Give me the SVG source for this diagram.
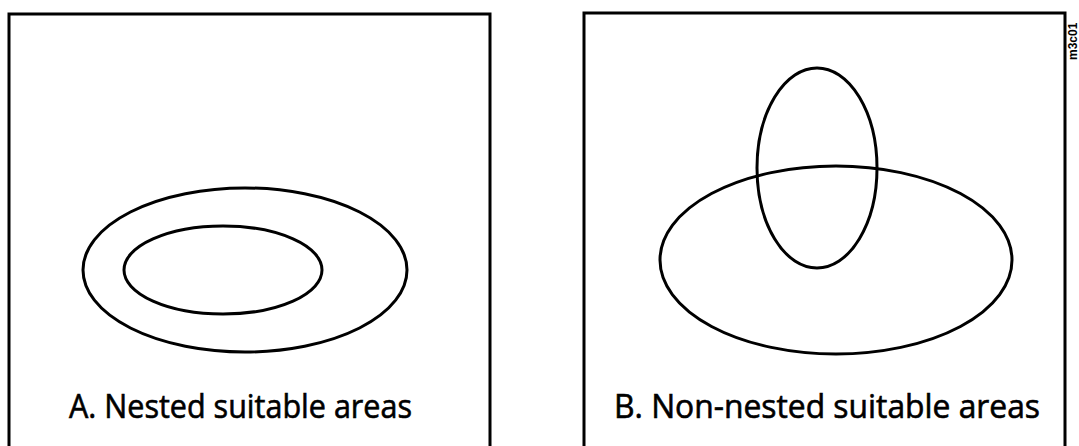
<svg xmlns="http://www.w3.org/2000/svg" width="1079" height="446" viewBox="0 0 1079 446">
<style>
.frame{fill:none;stroke:#000;stroke-width:3}
.shape{fill:none;stroke:#000;stroke-width:3}
.lbl{font-family:"Open Sans","Noto Sans",sans-serif;font-size:32px;fill:#000;stroke:#000;stroke-width:0.6}
.code{font-family:"Liberation Sans",sans-serif;font-size:12px;fill:#000;font-weight:bold}
</style>
<rect width="1079" height="446" fill="#fff"/>
<g id="panelA">
<path class="frame" d="M9,450 V14 H490 V450"/>
<ellipse class="shape" cx="245" cy="270" rx="162" ry="82"/>
<ellipse class="shape" cx="223" cy="270" rx="99" ry="44"/>
<text class="lbl" x="69" y="418" textLength="343" lengthAdjust="spacingAndGlyphs">A. Nested suitable areas</text>
</g>
<g id="panelB">
<path class="frame" d="M584,450 V13 H1065 V450"/>
<ellipse class="shape" cx="836" cy="260" rx="176" ry="94"/>
<ellipse class="shape" cx="817" cy="168" rx="60" ry="100"/>
<text class="lbl" x="614" y="418" textLength="426" lengthAdjust="spacingAndGlyphs">B. Non-nested suitable areas</text>
</g>
<text class="code" transform="translate(1077,60) rotate(-90)">m3c01</text>
</svg>
